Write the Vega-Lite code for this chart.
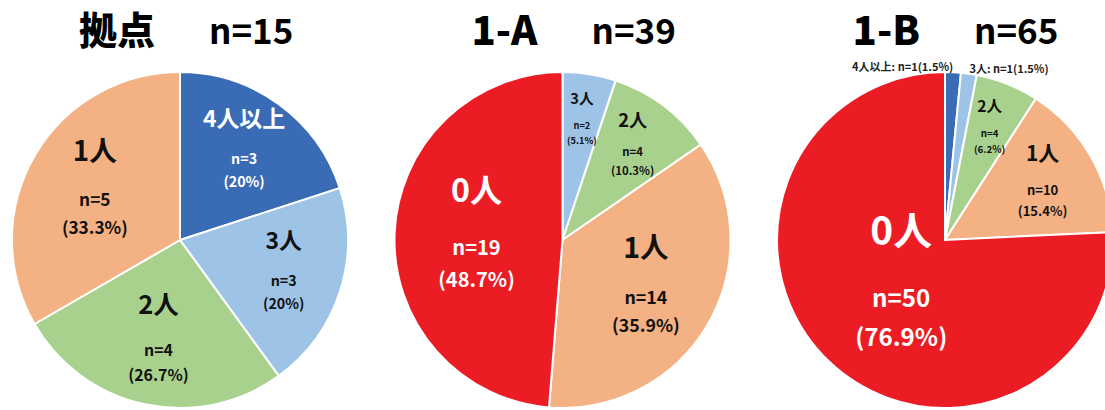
{
  "$schema": "https://vega.github.io/schema/vega-lite/v6.json",
  "autosize": {"type": "none"},
  "width": 1105,
  "height": 340,
  "padding": {"top": 70, "left": 0, "right": 0, "bottom": 0},
  "background": "white",
  "config": {
    "view": {"stroke": null},
    "text": {"font": "Noto Sans CJK JP", "fontWeight": "bold", "baseline": "middle", "align": "center"}
  },
  "datasets": {
    "slices": [
      {"grp": "拠点", "cat": "4人以上", "n": 3, "pct": 20},
      {"grp": "拠点", "cat": "3人", "n": 3, "pct": 20},
      {"grp": "拠点", "cat": "2人", "n": 4, "pct": 26.7},
      {"grp": "拠点", "cat": "1人", "n": 5, "pct": 33.3},
      {"grp": "1-A", "cat": "3人", "n": 2, "pct": 5.1},
      {"grp": "1-A", "cat": "2人", "n": 4, "pct": 10.3},
      {"grp": "1-A", "cat": "1人", "n": 14, "pct": 35.9},
      {"grp": "1-A", "cat": "0人", "n": 19, "pct": 48.7},
      {"grp": "1-B", "cat": "4人以上", "n": 1, "pct": 1.5},
      {"grp": "1-B", "cat": "3人", "n": 1, "pct": 1.5},
      {"grp": "1-B", "cat": "2人", "n": 4, "pct": 6.2},
      {"grp": "1-B", "cat": "1人", "n": 10, "pct": 15.4},
      {"grp": "1-B", "cat": "0人", "n": 50, "pct": 76.9}
    ],
    "titles": [
      {"grp": "拠点", "total": 15},
      {"grp": "1-A", "total": 39},
      {"grp": "1-B", "total": 65}
    ]
  },
  "encoding": {
    "x": {
      "field": "grp",
      "type": "nominal",
      "scale": {"type": "point", "domain": ["拠点", "1-A", "1-B"], "range": [180, 945], "padding": 0},
      "axis": null
    }
  },
  "resolve": {"scale": {"theta": "independent"}},
  "layer": [
    {
      "data": {"name": "slices"},
      "transform": [
        {"filter": "datum.grp === '拠点'"},
        {"calculate": "'n=' + datum.n", "as": "nlab"},
        {"calculate": "'(' + datum.pct + '%)'", "as": "plab"}
      ],
      "encoding": {
        "theta": {"field": "n", "type": "quantitative", "stack": true},
        "order": {"field": "cat", "type": "ordinal", "sort": "descending"},
        "detail": {"field": "cat", "type": "nominal"}
      },
      "layer": [
        {
          "mark": {"type": "arc", "outerRadius": 168, "stroke": "white", "strokeWidth": 2},
          "encoding": {
            "color": {"field": "cat", "type": "nominal", "legend": null,
              "scale": {"domain": ["4人以上", "3人", "2人", "1人", "0人"], "range": ["#3A6CB5", "#9DC3E6", "#A9D18E", "#F4B183", "#EC1C24"]}}
          }
        },
        {
          "mark": {"type": "text", "radius": {"expr": "125 - 0.8*datum.pct"}, "fontSize": {"expr": "6.4 + 3.7*sqrt(datum.pct)"}, "dy": {"expr": "-2.2*(4 + 2.3*sqrt(datum.pct))"}},
          "encoding": {
            "text": {"field": "cat"},
            "color": {"condition": {"test": "datum.cat === '0人' || datum.cat === '4人以上'", "value": "white"}, "value": "#111"}
          }
        },
        {
          "mark": {"type": "text", "radius": {"expr": "125 - 0.8*datum.pct"}, "fontSize": {"expr": "4 + 2.3*sqrt(datum.pct)"}, "dy": {"expr": "0.6*(4 + 2.3*sqrt(datum.pct))"}},
          "encoding": {
            "text": {"field": "nlab"},
            "color": {"condition": {"test": "datum.cat === '0人' || datum.cat === '4人以上'", "value": "white"}, "value": "#111"}
          }
        },
        {
          "mark": {"type": "text", "radius": {"expr": "125 - 0.8*datum.pct"}, "fontSize": {"expr": "4 + 2.3*sqrt(datum.pct)"}, "dy": {"expr": "2.2*(4 + 2.3*sqrt(datum.pct))"}},
          "encoding": {
            "text": {"field": "plab"},
            "color": {"condition": {"test": "datum.cat === '0人' || datum.cat === '4人以上'", "value": "white"}, "value": "#111"}
          }
        }
      ]
    },
    {
      "data": {"name": "slices"},
      "transform": [
        {"filter": "datum.grp === '1-A'"},
        {"calculate": "'n=' + datum.n", "as": "nlab"},
        {"calculate": "'(' + datum.pct + '%)'", "as": "plab"}
      ],
      "encoding": {
        "theta": {"field": "n", "type": "quantitative", "stack": true},
        "order": {"field": "cat", "type": "ordinal", "sort": "descending"},
        "detail": {"field": "cat", "type": "nominal"}
      },
      "layer": [
        {
          "mark": {"type": "arc", "outerRadius": 168, "stroke": "white", "strokeWidth": 2},
          "encoding": {
            "color": {"field": "cat", "type": "nominal", "legend": null,
              "scale": {"domain": ["4人以上", "3人", "2人", "1人", "0人"], "range": ["#3A6CB5", "#9DC3E6", "#A9D18E", "#F4B183", "#EC1C24"]}}
          }
        },
        {
          "mark": {"type": "text", "radius": {"expr": "125 - 0.8*datum.pct"}, "fontSize": {"expr": "6.4 + 3.7*sqrt(datum.pct)"}, "dy": {"expr": "-2.2*(4 + 2.3*sqrt(datum.pct))"}},
          "encoding": {
            "text": {"field": "cat"},
            "color": {"condition": {"test": "datum.cat === '0人' || datum.cat === '4人以上'", "value": "white"}, "value": "#111"}
          }
        },
        {
          "mark": {"type": "text", "radius": {"expr": "125 - 0.8*datum.pct"}, "fontSize": {"expr": "4 + 2.3*sqrt(datum.pct)"}, "dy": {"expr": "0.6*(4 + 2.3*sqrt(datum.pct))"}},
          "encoding": {
            "text": {"field": "nlab"},
            "color": {"condition": {"test": "datum.cat === '0人' || datum.cat === '4人以上'", "value": "white"}, "value": "#111"}
          }
        },
        {
          "mark": {"type": "text", "radius": {"expr": "125 - 0.8*datum.pct"}, "fontSize": {"expr": "4 + 2.3*sqrt(datum.pct)"}, "dy": {"expr": "2.2*(4 + 2.3*sqrt(datum.pct))"}},
          "encoding": {
            "text": {"field": "plab"},
            "color": {"condition": {"test": "datum.cat === '0人' || datum.cat === '4人以上'", "value": "white"}, "value": "#111"}
          }
        }
      ]
    },
    {
      "data": {"name": "slices"},
      "transform": [
        {"filter": "datum.grp === '1-B'"},
        {"calculate": "'n=' + datum.n", "as": "nlab"},
        {"calculate": "'(' + datum.pct + '%)'", "as": "plab"},
        {"calculate": "datum.cat + ': n=' + datum.n + '(' + datum.pct + '%)'", "as": "olab"}
      ],
      "encoding": {
        "theta": {"field": "n", "type": "quantitative", "stack": true},
        "order": {"field": "cat", "type": "ordinal", "sort": "descending"},
        "detail": {"field": "cat", "type": "nominal"}
      },
      "layer": [
        {
          "mark": {"type": "arc", "outerRadius": 168, "stroke": "white", "strokeWidth": 2},
          "encoding": {
            "color": {"field": "cat", "type": "nominal", "legend": null,
              "scale": {"domain": ["4人以上", "3人", "2人", "1人", "0人"], "range": ["#3A6CB5", "#9DC3E6", "#A9D18E", "#F4B183", "#EC1C24"]}}
          }
        },
        {
          "mark": {"type": "text", "radius": {"expr": "125 - 0.8*datum.pct"}, "fontSize": {"expr": "6.4 + 3.7*sqrt(datum.pct)"}, "dy": {"expr": "-2.2*(4 + 2.3*sqrt(datum.pct))"}},
          "encoding": {
            "text": {"field": "cat"},
            "color": {"condition": {"test": "datum.cat === '0人' || datum.cat === '4人以上'", "value": "white"}, "value": "#111"},
            "opacity": {"condition": {"test": "datum.pct < 3", "value": 0}, "value": 1}
          }
        },
        {
          "mark": {"type": "text", "radius": {"expr": "125 - 0.8*datum.pct"}, "fontSize": {"expr": "4 + 2.3*sqrt(datum.pct)"}, "dy": {"expr": "0.6*(4 + 2.3*sqrt(datum.pct))"}},
          "encoding": {
            "text": {"field": "nlab"},
            "color": {"condition": {"test": "datum.cat === '0人' || datum.cat === '4人以上'", "value": "white"}, "value": "#111"},
            "opacity": {"condition": {"test": "datum.pct < 3", "value": 0}, "value": 1}
          }
        },
        {
          "mark": {"type": "text", "radius": {"expr": "125 - 0.8*datum.pct"}, "fontSize": {"expr": "4 + 2.3*sqrt(datum.pct)"}, "dy": {"expr": "2.2*(4 + 2.3*sqrt(datum.pct))"}},
          "encoding": {
            "text": {"field": "plab"},
            "color": {"condition": {"test": "datum.cat === '0人' || datum.cat === '4人以上'", "value": "white"}, "value": "#111"},
            "opacity": {"condition": {"test": "datum.pct < 3", "value": 0}, "value": 1}
          }
        },
        {
          "mark": {"type": "text", "radius": 172, "fontSize": 11, "align": {"expr": "datum.cat === '4人以上' ? 'right' : 'left'"}},
          "encoding": {
            "text": {"field": "olab"},
            "color": {"value": "#222"},
            "opacity": {"condition": {"test": "datum.pct < 3", "value": 1}, "value": 0}
          }
        }
      ]
    },
    {
      "data": {"name": "titles"},
      "transform": [
        {"calculate": "'n=' + datum.total", "as": "tlab"}
      ],
      "layer": [
        {
          "mark": {"type": "text", "align": "right", "dx": -25, "dy": -207, "fontSize": {"expr": "datum.grp === '拠点' ? 38 : 40"}, "fontWeight": 900, "color": "#000"},
          "encoding": {"text": {"field": "grp"}}
        },
        {
          "mark": {"type": "text", "align": "left", "dx": 29, "dy": -207, "fontSize": 35, "color": "#000"},
          "encoding": {"text": {"field": "tlab"}}
        }
      ]
    }
  ]
}
